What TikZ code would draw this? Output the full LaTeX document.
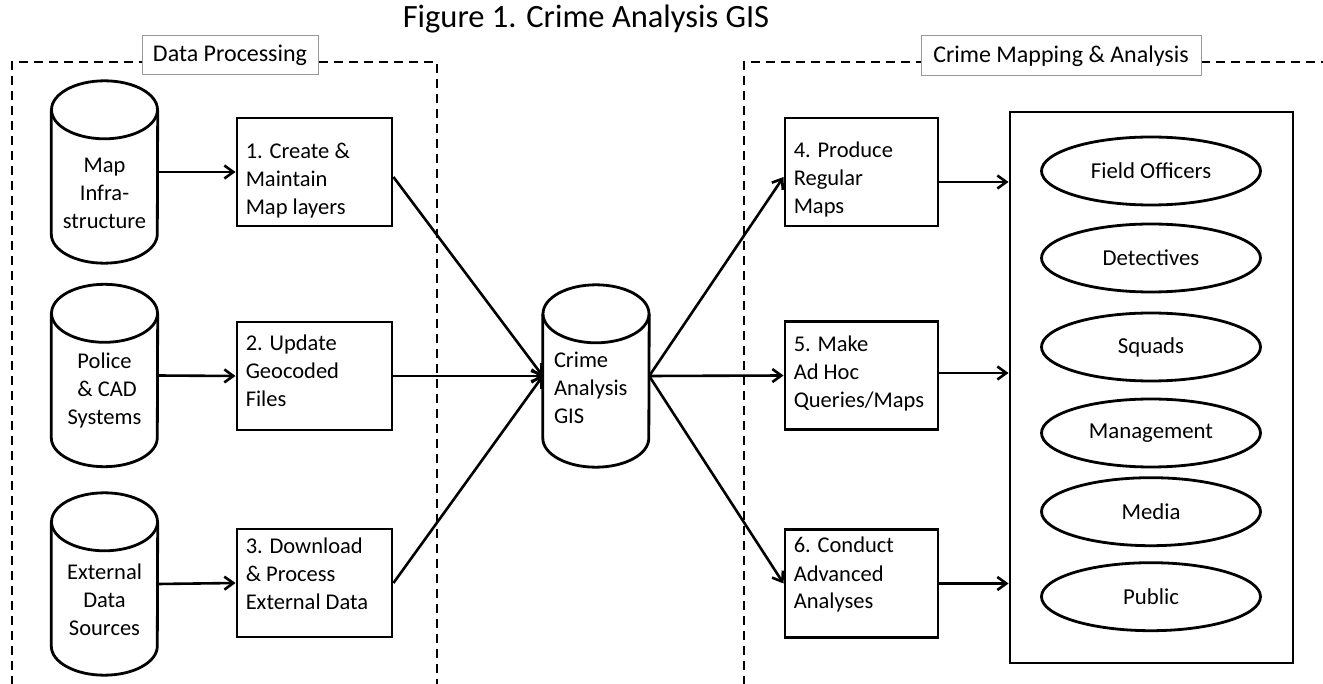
\documentclass[tikz,border=0pt]{standalone}
\usepackage{fontspec}
\setmainfont{Carlito}
\usetikzlibrary{shapes.geometric,arrows.meta,calc}
\newcommand\dbcyl[3]{%
  \node[dbbox] (#1) at (#2,#3) {};
  \draw[dbline] ([yshift=-29pt]#1.north) ellipse [x radius=53pt, y radius=29pt];
  \draw[dbline] ([yshift=-29pt]#1.north west) -- ([yshift=29pt]#1.south west)
    arc [start angle=180, end angle=360, x radius=53pt, y radius=29pt]
    -- ([yshift=-29pt]#1.north east);
}
\begin{document}
\begin{tikzpicture}[x=1pt,y=-1pt,
  every node/.style={font=\fontsize{22.5}{28}\selectfont, inner sep=0pt},
  frame/.style={line width=2.7pt, dash pattern=on 9pt off 6pt},
  tag/.style={draw=gray!80, line width=1pt, fill=white, font=\fontsize{24}{29}\selectfont},
  stepbox/.style={draw, line width=2.9pt, minimum height=108pt},
  dbbox/.style={minimum width=106pt, minimum height=182pt},
  dbline/.style={line width=2.8pt},
  user/.style={ellipse, draw, line width=2.8pt, minimum width=219pt, minimum height=68pt, font=\fontsize{22.8}{27}\selectfont},
  flow/.style={line width=2.6pt, -{Straight Barb[length=9pt,width=13pt,line width=2.6pt]}}
]
\useasboundingbox (0,0) rectangle (1323,684);
\clip (0,0) rectangle (1323,684);

% frames
\draw[frame] (12,700) -- (12,62) -- (437,62) -- (437,700);
\draw[frame] (744,700) -- (744,62) -- (1340,62);
\node[tag, minimum width=176pt, minimum height=39pt] (lp) at (230,55.5) {Data Processing};
\node[tag, minimum width=280pt, minimum height=40pt] (lm) at (1061,56) {Crime Mapping \& Analysis};

% title
\node[anchor=base, font=\fontsize{32.5}{38}\selectfont] (title) at (586,28) {Figure 1. Crime Analysis GIS};

% databases
\dbcyl{c1}{104.5}{172}
\dbcyl{c2}{104.5}{375.5}
\dbcyl{c3}{104.5}{584}
\dbcyl{gis}{596}{376}
\node[align=center] (c1t) at ([yshift=-21pt]c1.center) {Map\\Infra-\\structure};
\node[align=center] (c2t) at ([yshift=-15pt]c2.center) {Police\\\ \& CAD\\Systems};
\node[align=center] (c3t) at ([yshift=-16pt]c3.center) {External\\Data\\Sources};
\node[align=left, anchor=west] (gist) at ([xshift=11pt,yshift=-12pt]gis.west) {Crime\\Analysis\\GIS};

% process boxes
\node[stepbox, minimum width=155pt] (b1) at (314.5,172) {};
\node[stepbox, minimum width=155pt] (b2) at (314.5,376) {};
\node[stepbox, minimum width=155pt] (b3) at (314.5,583) {};
\node[stepbox, minimum width=153pt] (b4) at (861.5,172) {};
\node[stepbox, minimum width=153pt] (b5) at (861.5,375.5) {};
\node[stepbox, minimum width=153pt] (b6) at (861.5,583.5) {};
\node[align=left, anchor=west] (b1t) at ([xshift=10pt,yshift=-9pt]b1.west) {1. Create \&\\Maintain\\Map layers};
\node[align=left, anchor=west] (b2t) at ([xshift=10pt,yshift=5pt]b2.west) {2. Update\\Geocoded\\Files};
\node[align=left, anchor=west] (b3t) at ([xshift=10pt,yshift=9pt]b3.west) {3. Download\\\& Process\\External Data};
\node[align=left, anchor=west] (b4t) at ([xshift=10pt,yshift=-8pt]b4.west) {4. Produce\\Regular\\Maps};
\node[align=left, anchor=west] (b5t) at ([xshift=10pt,yshift=1.5pt]b5.west) {5. Make\\Ad Hoc\\Queries/Maps};
\node[align=left, anchor=west] (b6t) at ([xshift=10pt,yshift=8.5pt]b6.west) {6. Conduct\\Advanced\\Analyses};

% audience
\node[draw, line width=2.9pt, minimum width=283pt, minimum height=551pt] (aud) at (1151.5,387.5) {};
\node[user] (u1) at (1151,171) {Field Officers};
\node[user] (u2) at (1151,258) {Detectives};
\node[user] (u3) at (1151,347) {Squads};
\node[user] (u4) at (1151,433) {Management};
\node[user] (u5) at (1151,511.7) {Media};
\node[user] (u6) at (1151,596.7) {Public};

% connectors
\draw[flow] (c1.east) -- (b1.west);
\draw[flow] (c2.east) -- (b2.west);
\draw[flow] (c3.east) -- (b3.west);
\draw[flow] ([yshift=-5pt]b1.east) -- (gis.west);
\draw[flow] (b2.east) -- (gis.west);
\draw[flow] (b3.east) -- (gis.west);
\draw[flow] (gis.east) -- ([yshift=-5pt]b4.west);
\draw[flow] (gis.east) -- (b5.west);
\draw[flow] (gis.east) -- (b6.west);
\draw[flow] ([yshift=-10pt]b4.east) -- ([yshift=-10pt]b4.east -| aud.west);
\draw[flow] ([yshift=2.5pt]b5.east) -- ([yshift=2.5pt]b5.east -| aud.west);
\draw[flow] (b6.east) -- (b6.east -| aud.west);
\end{tikzpicture}
\end{document}
